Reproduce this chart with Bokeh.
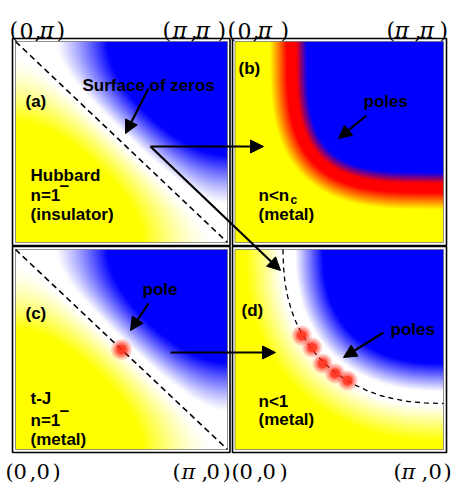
import numpy as np
from bokeh.plotting import figure
from bokeh.models import Range1d, Label, Arrow, NormalHead
from bokeh.embed import file_html
from bokeh.resources import INLINE

# ---------------- data (momenta in units of pi) ----------------
# surface of zeros in (a) and (c): kx + ky = pi
ZERO_KX = [0.0, 1.0]
ZERO_KY = [1.0, 0.0]
# Fermi surface (band of poles)
FS_B_KX = [0.273, 0.275, 0.279, 0.287, 0.298, 0.313, 0.330, 0.351, 0.376, 0.4035,
           0.435, 0.471, 0.511, 0.555, 0.606, 0.664, 0.7325, 0.820, 1.000]
FS_B_KY = [1.000, 0.820, 0.7325, 0.664, 0.606, 0.555, 0.511, 0.471, 0.435, 0.4035,
           0.376, 0.351, 0.330, 0.313, 0.298, 0.287, 0.279, 0.275, 0.273]
# dashed surface in panel (d)
FS_D_KX = [0.230, 0.233, 0.240, 0.253, 0.270, 0.293, 0.321, 0.353, 0.389, 0.430,
           0.476, 0.525, 0.579, 0.636, 0.697, 0.763, 0.832, 0.908, 1.000]
FS_D_KY = [1.000, 0.908, 0.832, 0.763, 0.697, 0.636, 0.579, 0.525, 0.476, 0.430,
           0.389, 0.353, 0.321, 0.293, 0.270, 0.253, 0.240, 0.233, 0.230]
# poles
POLE_C_KX = [0.50]
POLE_C_KY = [0.50]
POLE_D_KX = [0.32, 0.37, 0.42, 0.48, 0.54]
POLE_D_KY = [0.57, 0.51, 0.43, 0.38, 0.345]
# corner labels
CORNER_TOP = ["(0,π)", "(π,π)", "(0,π)", "(π,π)"]
CORNER_BOTTOM = ["(0,0)", "(π,0)", "(0,0)", "(π,0)"]

# ---------------- layout (page pixels) ----------------
BOX = {"a": (12, 38, 229.5, 245), "b": (232, 38, 446, 245),
       "c": (12, 246, 229.5, 452), "d": (232, 246, 446, 452)}
INNER = {"a": (15, 41, 227, 242), "b": (234.5, 41, 443, 242),
         "c": (15, 249, 227, 449), "d": (234.5, 249, 443, 449)}

YELLOW = (255, 255, 0)
WHITE = (255, 255, 255)
BLUE = (0, 0, 255)
RED = (255, 0, 0)


def grid(name):
    x0, y0, x1, y1 = INNER[name]
    W = int(round(x1 - x0))
    H = int(round(y1 - y0))
    PX, PY = np.meshgrid(np.arange(W) + 0.5, np.arange(H) + 0.5)
    return PX, PY, W, H


def cmap(t, stops, colors):
    out = np.zeros(t.shape + (3,))
    for c in range(3):
        out[..., c] = np.interp(t, stops, [col[c] for col in colors])
    return out


def to_rgba(rgb):
    H, W = rgb.shape[:2]
    img = np.empty((H, W), dtype=np.uint32)
    view = img.view(dtype=np.uint8).reshape((H, W, 4))
    view[..., :3] = np.clip(rgb, 0, 255).astype(np.uint8)
    view[..., 3] = 255
    return img


def signed_dist(PX, PY, W, H, kx, ky):
    cx = np.asarray(kx) * W
    cy = np.asarray(ky) * H
    px = PX.ravel()[:, None]
    py = PY.ravel()[:, None]
    ax, ay, bx, by = cx[:-1], cy[:-1], cx[1:], cy[1:]
    dx, dy = bx - ax, by - ay
    L2 = dx * dx + dy * dy
    t = np.clip(((px - ax) * dx + (py - ay) * dy) / L2, 0, 1)
    d = np.hypot(px - (ax + t * dx), py - (ay + t * dy)).min(axis=1).reshape(PX.shape)
    th = np.arctan2(H - PY, W - PX)
    rho = np.hypot(H - PY, W - PX)
    thc = np.arctan2(H - cy, W - cx)
    rhoc = np.hypot(H - cy, W - cx)
    o = np.argsort(thc)
    r = np.interp(th, thc[o], rhoc[o])
    return np.where(rho < r, d, -d)


def diag_image(name):
    PX, PY, W, H = grid(name)
    kx = PX / W * np.pi
    ky = PY / H * np.pi
    f = -(np.cos(kx) + np.cos(ky))
    return to_rgba(cmap(f, [-0.7, -0.04, 0.18, 0.8], [YELLOW, WHITE, WHITE, BLUE]))


def band_image(name, kx, ky):
    PX, PY, W, H = grid(name)
    s = signed_dist(PX, PY, W, H, kx, ky)
    return to_rgba(cmap(s, [-22, -5, 4, 15], [YELLOW, RED, RED, BLUE]))


def fs_image(name, kx, ky):
    PX, PY, W, H = grid(name)
    s = signed_dist(PX, PY, W, H, kx, ky)
    return to_rgba(cmap(s, [-38, -3, 12, 40], [YELLOW, WHITE, WHITE, BLUE]))


def to_page(name, kx, ky):
    x0, y0, x1, y1 = INNER[name]
    kx = np.asarray(kx, dtype=float)
    ky = np.asarray(ky, dtype=float)
    return x0 + kx * (x1 - x0), -(y1 - ky * (y1 - y0))


p = figure(width=454, height=483, x_range=Range1d(0, 454), y_range=Range1d(-483, 0),
           x_axis_location=None, y_axis_location=None, toolbar_location=None,
           output_backend="svg", min_border=0, outline_line_color=None)
p.grid.visible = False
p.background_fill_color = "white"
p.border_fill_color = "white"

images = {
    "a": diag_image("a"),
    "b": band_image("b", FS_B_KX, FS_B_KY),
    "c": diag_image("c"),
    "d": fs_image("d", FS_D_KX, FS_D_KY),
}
for name, img in images.items():
    x0, y0, x1, y1 = INNER[name]
    p.image_rgba(image=[img], x=x0, y=-y1, dw=x1 - x0, dh=y1 - y0)

# inner thin frames and outer boxes
p.quad(left=[INNER[k][0] for k in INNER], right=[INNER[k][2] for k in INNER],
       top=[-INNER[k][1] for k in INNER], bottom=[-INNER[k][3] for k in INNER],
       fill_color=None, line_color="#666666", line_width=0.7)
p.quad(left=[BOX[k][0] for k in BOX], right=[BOX[k][2] for k in BOX],
       top=[-BOX[k][1] for k in BOX], bottom=[-BOX[k][3] for k in BOX],
       fill_color=None, line_color="black", line_width=1.6)

# dashed surfaces of zeros
for name in ("a", "c"):
    xs, ys = to_page(name, ZERO_KX, ZERO_KY)
    p.line(xs, ys, line_color="black", line_width=1.6, line_dash="6 4")
xs, ys = to_page("d", FS_D_KX, FS_D_KY)
p.line(xs, ys, line_color="black", line_width=1.3, line_dash="5 4")

# poles (soft red blobs)
for name, kx, ky, sizes in (("c", POLE_C_KX, POLE_C_KY, [21, 17, 13, 9]),
                            ("d", POLE_D_KX, POLE_D_KY, [20, 16, 12, 9])):
    xs, ys = to_page(name, kx, ky)
    for sz, al in zip(sizes, [0.2, 0.3, 0.45, 0.7]):
        p.scatter(xs, ys, size=sz, marker="circle", fill_color="#ff2a14",
                  fill_alpha=al, line_color=None)

# arrows
ARROWS = [((150, 146), (263, 146)), ((150, 146), (280, 270)), ((170, 352), (275, 352)),
          ((148, 88), (125, 133)), ((366, 115), (338, 138)), ((148, 303), (130, 330)),
          ((383, 332), (343, 357))]
for (xa, ya), (xb, yb) in ARROWS:
    p.add_layout(Arrow(end=NormalHead(size=13, fill_color="black", line_color="black"),
                       x_start=xa, y_start=-ya, x_end=xb, y_end=-yb,
                       line_color="black", line_width=2.2))

# panel texts
SANS = "Liberation Sans"
TEXTS = [
    ("(a)", 25, 101, 17), ("Surface of zeros", 82, 85, 17), ("Hubbard", 30, 175, 17),
    ("n=1", 30, 195, 17), ("−", 59, 185, 17), ("(insulator)", 30, 214, 17),
    ("(b)", 238, 68, 17), ("poles", 363, 101, 17), ("n<n", 258, 195, 17), ("c", 290, 199, 12),
    ("(metal)", 258, 214, 17),
    ("(c)", 25, 313, 17), ("pole", 142, 289, 17), ("t-J", 30, 398, 17), ("n=1", 30, 420, 17),
    ("−", 59, 410, 17), ("(metal)", 30, 439, 17),
    ("(d)", 241, 310, 17), ("poles", 390, 329, 17), ("n<1", 258, 401, 17), ("(metal)", 258, 419, 17),
]
for txt, x, base, fs in TEXTS:
    p.add_layout(Label(x=x, y=-base, text=txt, text_font=SANS, text_font_size=f"{fs}px",
                       text_font_style="bold", text_color="black", text_baseline="alphabetic"))

# corner labels, char by char (pi in italic)
TOP_X = [[9, 19, 34, 39, 56], [162, 172, 190, 195, 217], [227, 237, 252, 257, 280], [386, 394, 414, 419, 439]]
BOT_X = [[5, 13, 29, 36, 52], [172, 181, 201, 206, 222], [231, 239, 256, 262, 279], [393, 401, 421, 428, 443]]
for labels, xpos, base, fsz in ((CORNER_TOP, TOP_X, 30, "22px"), (CORNER_BOTTOM, BOT_X, 471, "21px")):
    for lab, xl in zip(labels, xpos):
        for ch, x in zip(lab, xl):
            p.add_layout(Label(x=x, y=-base, text=ch, text_font="DejaVu Serif",
                               text_font_size=fsz,
                               text_font_style="italic" if ch == "π" else "normal",
                               text_color="black", text_baseline="alphabetic"))

open("out.html", "w").write(file_html(p, INLINE))
